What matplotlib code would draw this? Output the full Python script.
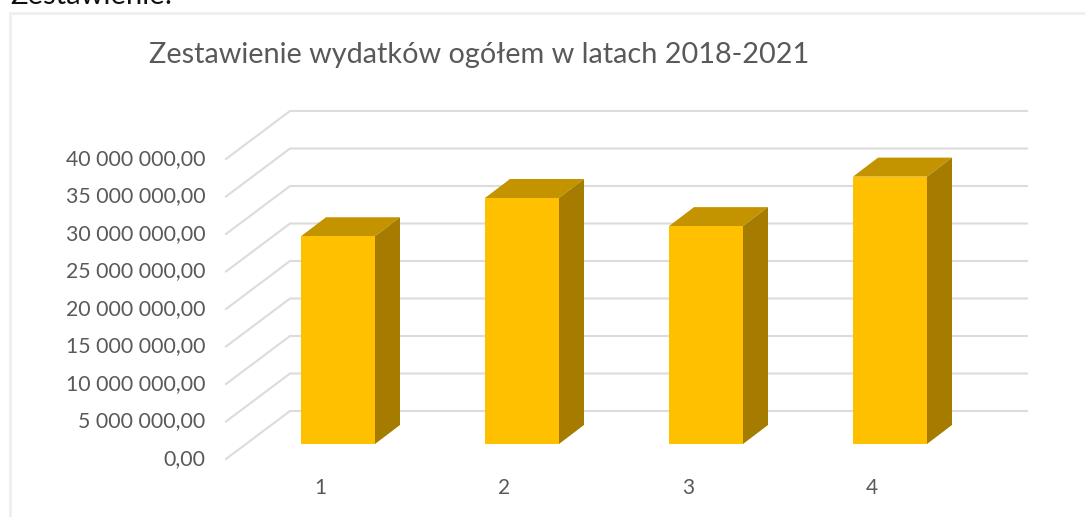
import matplotlib
matplotlib.use("Agg")
import matplotlib.pyplot as plt
from matplotlib.patches import Polygon, Rectangle

categories = [1, 2, 3, 4]
values = [27700000, 32800000, 29050000, 35650000]
tick_values = [0, 5000000, 10000000, 15000000, 20000000, 25000000, 30000000, 35000000, 40000000]
tick_labels = ["0,00", "5 000 000,00", "10 000 000,00", "15 000 000,00", "20 000 000,00",
               "25 000 000,00", "30 000 000,00", "35 000 000,00", "40 000 000,00"]
title = "Zestawienie wydatków ogółem w latach 2018-2021"
heading = "Zestawienie:"

W, H = 1085, 517
PX_X = 184.0          # pixels per category
PX_Y = 7.5 / 1e6      # pixels per unit of value
BASE_PX = 444.0       # pixel row of the bars' base
X1_PX = 338.0         # pixel column of category 1

fig = plt.figure(figsize=(W / 100, H / 100), dpi=100, facecolor="white")
ax = fig.add_axes([0, 0, 1, 1])
ax.set_xlim(1 - X1_PX / PX_X, 1 + (W - X1_PX) / PX_X)
ax.set_ylim((BASE_PX - H) / PX_Y, BASE_PX / PX_Y)
ax.axis("off")
plt.rcParams["font.family"] = ["Lato", "DejaVu Sans"]

dx = lambda px: px / PX_X
dy = lambda px: px / PX_Y
TEXT = "#595959"
GRID = "#dcdcdc"

# outer frame of the pasted chart
ft = ax.transAxes
ax.add_patch(Rectangle((10 / W, -0.1), 1.2, 1.1 - 13 / H, transform=ft, fill=False,
                       edgecolor="#efefef", linewidth=2, zorder=1, clip_on=False))

# floor/wall grid lines
front_x = 1 + dx(226 - X1_PX)
back_x = 1 + dx(290 - X1_PX)
right_x = 1 + dx(1027 - X1_PX)
front_off = dy(BASE_PX - 459)
back_off = dy(BASE_PX - 411)
for v, lab in zip(tick_values, tick_labels):
    ax.plot([front_x, back_x, right_x], [v + front_off, v + back_off, v + back_off],
            color=GRID, lw=1.5, zorder=2, solid_joinstyle="miter")
    ax.text(1 + dx(205.5 - X1_PX), v + front_off + dy(0), lab, ha="right", va="center",
            fontsize=15.3, color=TEXT, zorder=6)

# bars with a 3D look
half = dx(37)
ddx, ddy = dx(25), dy(19)
for c, v in zip(categories, values):
    x0, x1 = c - half, c + half
    ax.add_patch(Rectangle((x0, 0), x1 - x0, v, facecolor="#ffc000", edgecolor="none", zorder=5))
    ax.add_patch(Polygon([(x0, v), (x1, v), (x1 + ddx, v + ddy), (x0 + ddx, v + ddy)],
                         facecolor="#c49300", edgecolor="none", zorder=4))
    ax.add_patch(Polygon([(x1, 0), (x1 + ddx, ddy), (x1 + ddx, v + ddy), (x1, v)],
                         facecolor="#a67c00", edgecolor="none", zorder=4))
    ax.text(c + dx(-18), dy(BASE_PX - 488), str(c), ha="center", va="center",
            fontsize=15, color=TEXT, zorder=6)

ax.text(149 / W, 1 - 55 / H, title, transform=ft, ha="left", va="center",
        fontsize=20.8, color=TEXT, zorder=6)
ax.text(10 / W, 1 - 4 / H, heading, transform=ft, ha="left", va="baseline",
        fontsize=21, color="#111111", zorder=6, clip_on=True)

fig.savefig("out.png", dpi=100, facecolor="white")
